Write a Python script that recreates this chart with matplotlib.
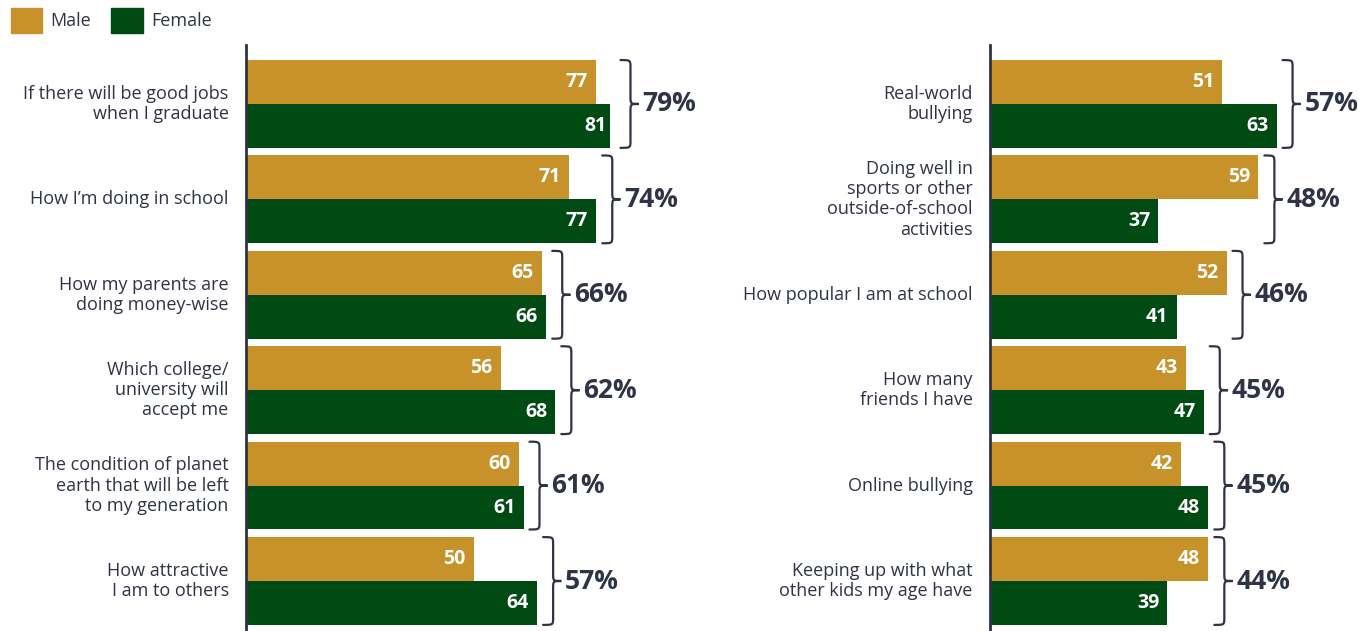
import matplotlib.pyplot as plt
from matplotlib.path import Path
from matplotlib.patches import PathPatch, Patch

left_labels = ['If there will be good jobs\nwhen I graduate', 'How I’m doing in school',
               'How my parents are\ndoing money-wise', 'Which college/\nuniversity will\naccept me',
               'The condition of planet\nearth that will be left\nto my generation',
               'How attractive\nI am to others']
left_male = [77, 71, 65, 56, 60, 50]
left_female = [81, 77, 66, 68, 61, 64]
left_total = [79, 74, 66, 62, 61, 57]

right_labels = ['Real-world\nbullying', 'Doing well in\nsports or other\noutside-of-school\nactivities',
                'How popular I am at school', 'How many\nfriends I have', 'Online bullying',
                'Keeping up with what\nother kids my age have']
right_male = [51, 59, 52, 43, 42, 48]
right_female = [63, 37, 41, 47, 48, 39]
right_total = [57, 48, 46, 45, 45, 44]

GOLD = '#C8922A'
GREEN = '#004A14'
INK = '#2E3345'
FONT = ['Open Sans', 'DejaVu Sans']
plt.rcParams['font.family'] = FONT

H = 0.46


def brace(ax, top, bottom, x0):
    x1, x2 = x0 + 2.2, x0 + 4.0
    mid = (top + bottom) / 2
    r = 0.08
    verts = [(x0, top), (x1, top), (x1, top), (x1, top + r),
             (x1, mid - r),
             (x1, mid), (x1, mid), (x2, mid),
             (x1, mid), (x1, mid), (x1, mid + r),
             (x1, bottom - r),
             (x1, bottom), (x1, bottom), (x0, bottom)]
    codes = [Path.MOVETO, Path.CURVE4, Path.CURVE4, Path.CURVE4,
             Path.LINETO,
             Path.CURVE4, Path.CURVE4, Path.CURVE4,
             Path.CURVE4, Path.CURVE4, Path.CURVE4,
             Path.LINETO,
             Path.CURVE4, Path.CURVE4, Path.CURVE4]
    ax.add_patch(PathPatch(Path(verts, codes), fill=False, edgecolor=INK,
                           lw=1.6, clip_on=False, capstyle='round'))
    return x2


def panel(ax, labels, male, female, total):
    ys = list(range(len(labels)))
    ax.barh([y - H / 2 for y in ys], male, height=H, color=GOLD)
    ax.barh([y + H / 2 for y in ys], female, height=H, color=GREEN)
    for y, m, f, t in zip(ys, male, female, total):
        ax.text(m - 1.8, y - H / 2, str(m), ha='right', va='center', color='white',
                fontsize=14, fontweight='bold')
        ax.text(f - 1.8, y + H / 2, str(f), ha='right', va='center', color='white',
                fontsize=14, fontweight='bold')
        tip = brace(ax, y - H, y + H, max(m, f) + 1.3)
        ax.text(tip + 0.8, y, f'{t}%', ha='left', va='center', color=INK,
                fontsize=19, fontweight='bold')
    ax.set_xlim(0, 80)
    ax.set_ylim(5.524, -0.618)
    ax.set_yticks(ys)
    ax.set_yticklabels(labels, ha='right', va='center', color=INK, fontsize=13,
                       linespacing=1.15)
    ax.set_xticks([])
    ax.tick_params(axis='y', length=0, pad=12.5)
    for s in ['top', 'right', 'bottom']:
        ax.spines[s].set_visible(False)
    ax.spines['left'].set_color(INK)
    ax.spines['left'].set_linewidth(2)


fig = plt.figure(figsize=(13.59, 6.31), dpi=100)
ax1 = fig.add_axes([246 / 1359, 0, 364 / 1359, 586 / 631])
ax2 = fig.add_axes([990 / 1359, 0, 364 / 1359, 586 / 631])
panel(ax1, left_labels, left_male, left_female, left_total)
panel(ax2, right_labels, right_male, right_female, right_total)

handles = [Patch(color=GOLD, label='Male'), Patch(color=GREEN, label='Female')]
fig.legend(handles=handles, loc='upper left', bbox_to_anchor=(0.0, 1.005), ncol=2,
           frameon=False, handlelength=1.75, handleheight=1.75, handletextpad=0.45,
           columnspacing=1.1, fontsize=13, labelcolor=INK, borderpad=0.1)

fig.savefig('out.png', dpi=100)
